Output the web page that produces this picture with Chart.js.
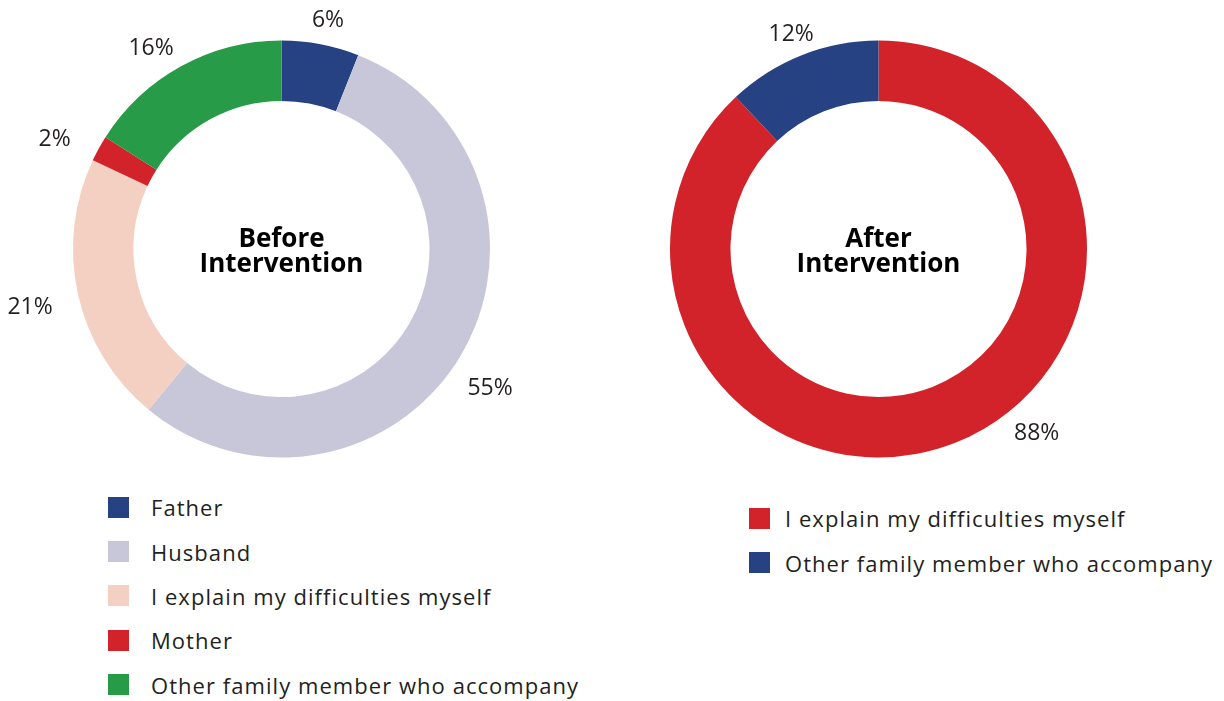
<!DOCTYPE html>
<html>
<head>
<meta charset="utf-8">
<script src="https://cdn.jsdelivr.net/npm/chart.js@4.4.1/dist/chart.umd.min.js"></script>
<style>
  body { margin: 0; background: #fff; width: 1224px; height: 701px; position: relative; overflow: hidden; font-family: "Open Sans", sans-serif; color: #231f20; }
  canvas { position: absolute; top: 0; }
  #before { left: 0; }
  #after { left: 612px; }
  .legend { position: absolute; }
  .legend .row { height: 44.4px; display: flex; align-items: center; font-size: 22px; letter-spacing: 1.05px; white-space: nowrap; }
  .legend .sw { width: 21px; height: 21px; margin-right: 22px; flex: none; }
  #legendBefore { left: 108px; top: 485px; }
  #legendAfter { left: 749px; top: 496px; }
  #legendAfter .sw { margin-right: 15px; }
</style>
</head>
<body>
<canvas id="before" width="600" height="480"></canvas>
<canvas id="after" width="612" height="480"></canvas>
<div class="legend" id="legendBefore"></div>
<div class="legend" id="legendAfter"></div>

<script>
// before intervention
const beforeLabels = ['Father', 'Husband', 'I explain my difficulties myself', 'Mother', 'Other family member who accompany'];
const beforeValues = [6, 55, 21, 2, 16];
const beforeColors = ['#274282', '#c8c7da', '#f4d0c2', '#d2232b', '#279b48'];

// after intervention
const afterLabels = ['I explain my difficulties myself', 'Other family member who accompany'];
const afterValues = [88, 12];
const afterColors = ['#d2232b', '#274282'];

const labelFont = '23px "Open Sans", sans-serif';
const centerFont = 'bold 26px "Open Sans", sans-serif';

// percent labels outside the ring + title in the hole
// place: [angle nudge in degrees, distance beyond the outer edge]
const ringLabels = {
    id: 'ringLabels',
    afterDraw(chart, args, opts) {
        const ctx = chart.ctx;
        const meta = chart.getDatasetMeta(0);
        const values = chart.data.datasets[0].data;
        ctx.save();
        ctx.font = labelFont;
        ctx.fillStyle = '#231f20';
        ctx.textAlign = 'center';
        ctx.textBaseline = 'middle';
        meta.data.forEach((arc, i) => {
            const p = opts.place[i] || [0, 30];
            const a = (arc.startAngle + arc.endAngle) / 2 + p[0] * Math.PI / 180;
            const d = arc.outerRadius + p[1];
            ctx.fillText(values[i] + '%', arc.x + Math.cos(a) * d, arc.y + Math.sin(a) * d);
        });
        const cx = meta.data[0].x, cy = meta.data[0].y;
        ctx.font = centerFont;
        ctx.fillStyle = '#000';
        ctx.textBaseline = 'alphabetic';
        ctx.fillText(opts.title[0], cx, cy - 2);
        ctx.fillText(opts.title[1], cx, cy + 23);
        ctx.restore();
    }
};

function makeDoughnut(id, labels, values, colors, padding, title, place) {
    return new Chart(document.getElementById(id), {
        type: 'doughnut',
        data: {
            labels: labels,
            datasets: [{
                data: values,
                backgroundColor: colors,
                borderWidth: 0
            }]
        },
        options: {
            responsive: false,
            animation: false,
            cutout: '71%',
            layout: { padding: padding },
            plugins: {
                legend: { display: false },
                tooltip: { enabled: false },
                ringLabels: { title: title, place: place }
            }
        },
        plugins: [ringLabels]
    });
}

makeDoughnut('before', beforeLabels, beforeValues, beforeColors,
    { left: 73, top: 40, right: 110, bottom: 22 }, ['Before', 'Intervention'],
    [[0.7, 25], [3.2, 42.5], [-0.4, 49.5], [-3, 43.5], [-4.2, 31]]);
makeDoughnut('after', afterLabels, afterValues, afterColors,
    { left: 58, top: 40, right: 137, bottom: 22 }, ['After', 'Intervention'],
    [[-19, 34.5], [-0.5, 23.5]]);

function buildLegend(elId, labels, colors) {
    const el = document.getElementById(elId);
    labels.forEach((lab, i) => {
        const row = document.createElement('div');
        row.className = 'row';
        row.innerHTML = '<span class="sw" style="background:' + colors[i] + '"></span><span>' + lab + '</span>';
        el.appendChild(row);
    });
}
buildLegend('legendBefore', beforeLabels, beforeColors);
buildLegend('legendAfter', afterLabels, afterColors);
</script>
</body>
</html>
